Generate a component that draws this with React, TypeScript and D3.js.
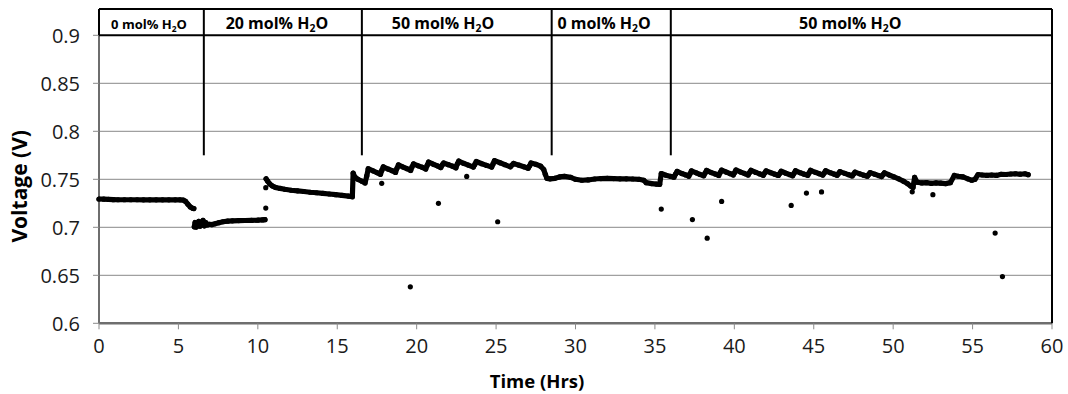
import React from 'react';
import * as d3 from 'd3';

// ---------- axis ticks ----------
const xTicks = [0, 5, 10, 15, 20, 25, 30, 35, 40, 45, 50, 55, 60];
const yTicks = [0.6, 0.65, 0.7, 0.75, 0.8, 0.85, 0.9];
const yTickLabels = ['0.6', '0.65', '0.7', '0.75', '0.8', '0.85', '0.9'];

// ---------- phases (top annotation) ----------
const phaseBounds = [6.6, 16.55, 28.5, 36.0];
const phaseWater = ['0', '20', '50', '0', '50'];
const phaseLabelHours = [3.15, 11.2, 21.66, 31.8, 47.3];
const dividerBottomV = 0.775;

// ---------- measured series (hours, volts) ----------
const run0mol: [number, number][] = [
  [0.0, 0.7295], [0.3, 0.7293], [0.6, 0.729], [0.9, 0.7288], [1.2, 0.7287], [1.6, 0.7287],
  [2.0, 0.7287], [2.4, 0.7287], [2.8, 0.7286], [3.2, 0.7286], [3.6, 0.7286], [4.0, 0.7286],
  [4.4, 0.7286], [4.8, 0.7286], [5.1, 0.7286], [5.3, 0.7284], [5.45, 0.727], [5.6, 0.724],
  [5.75, 0.7212], [5.9, 0.7198], [5.97, 0.7195],
];

const run20mol: [number, number][] = [
  [6.0, 0.7005], [6.05, 0.705], [6.12, 0.7002], [6.2, 0.7035], [6.28, 0.7062], [6.36, 0.7012],
  [6.45, 0.7032], [6.55, 0.7072], [6.63, 0.7015], [6.72, 0.7048], [6.82, 0.7025], [6.95, 0.7032],
  [7.1, 0.7028], [7.3, 0.7036], [7.55, 0.7048], [7.8, 0.7058], [8.1, 0.7064], [8.4, 0.7067],
  [8.8, 0.707], [9.2, 0.7071], [9.6, 0.7072], [10.0, 0.7074], [10.3, 0.7077], [10.45, 0.7079],
];

const run50mol: [number, number][] = [
  [10.52, 0.7505], [10.62, 0.748], [10.75, 0.7452], [10.9, 0.7432], [11.1, 0.7416], [11.4, 0.7405],
  [11.7, 0.7396], [12.1, 0.7386], [12.5, 0.738], [12.9, 0.7373], [13.3, 0.7365], [13.7, 0.736],
  [14.1, 0.7353], [14.5, 0.7347], [14.9, 0.734], [15.3, 0.7332], [15.7, 0.7325], [15.95, 0.7318],
  [16.0, 0.7565], [16.1, 0.7525], [16.3, 0.75], [16.55, 0.748], [16.75, 0.7462],
  [16.86, 0.7535], [16.95, 0.761], [17.25, 0.7588], [17.5, 0.757], [17.72, 0.7552],
  [17.81, 0.7595], [17.9, 0.763], [18.2, 0.7607], [18.45, 0.759], [18.67, 0.7572],
  [18.76, 0.7615], [18.85, 0.765], [19.15, 0.7627], [19.4, 0.761], [19.62, 0.7592],
  [19.71, 0.763], [19.8, 0.766], [20.1, 0.764], [20.35, 0.7625], [20.57, 0.7607],
  [20.66, 0.7645], [20.75, 0.768], [21.05, 0.7657], [21.3, 0.764], [21.52, 0.7622],
  [21.61, 0.765], [21.7, 0.767], [22.0, 0.7652], [22.25, 0.7637], [22.47, 0.762],
  [22.56, 0.766], [22.65, 0.769], [22.95, 0.7667], [23.25, 0.7648], [23.57, 0.7627],
  [23.66, 0.7655], [23.75, 0.7685], [24.1, 0.7662], [24.4, 0.7645], [24.72, 0.7627],
  [24.81, 0.766], [24.9, 0.7695], [25.25, 0.7672], [25.55, 0.7652], [25.9, 0.763],
  [26.0, 0.7648], [26.1, 0.7665], [26.45, 0.7647], [26.75, 0.763], [27.02, 0.7615],
  [27.11, 0.764], [27.2, 0.767], [27.5, 0.7657], [27.8, 0.7637], [28.0, 0.7602], [28.1, 0.7552],
  [28.2, 0.751],
  // back to 0 mol%
  [28.4, 0.7505], [28.7, 0.751], [29.0, 0.7525], [29.3, 0.753], [29.7, 0.752], [30.0, 0.75],
  [30.4, 0.749], [30.8, 0.7493], [31.2, 0.7503], [31.6, 0.7508], [32.0, 0.751], [32.4, 0.7508],
  [32.8, 0.7505], [33.2, 0.7505], [33.6, 0.7503], [34.0, 0.75], [34.3, 0.749], [34.45, 0.7465],
  [34.8, 0.7455], [35.1, 0.745], [35.3, 0.7448],
  // 50 mol% again
  [35.4, 0.756], [35.7, 0.7542], [36.0, 0.753], [36.2, 0.7522], [36.3, 0.7555], [36.4, 0.7582],
  [36.7, 0.756], [36.95, 0.7545], [37.13, 0.7532], [37.22, 0.756], [37.3, 0.7588], [37.6, 0.7567],
  [37.85, 0.755], [38.07, 0.7537], [38.16, 0.7565], [38.25, 0.7592], [38.55, 0.757], [38.8, 0.7555],
  [39.02, 0.754], [39.11, 0.757], [39.2, 0.7596], [39.5, 0.7574], [39.75, 0.7558], [39.93, 0.7545],
  [40.02, 0.757], [40.1, 0.7597], [40.4, 0.7575], [40.65, 0.756], [40.87, 0.7545], [40.96, 0.757],
  [41.05, 0.7594], [41.35, 0.7572], [41.6, 0.7556], [41.82, 0.7542], [41.91, 0.7566], [42.0, 0.7588],
  [42.3, 0.7568], [42.55, 0.7553], [42.77, 0.754], [42.86, 0.756], [42.95, 0.7584], [43.25, 0.7563],
  [43.5, 0.7548], [43.67, 0.7537], [43.76, 0.7562], [43.85, 0.7589], [44.15, 0.7568], [44.4, 0.7553],
  [44.62, 0.7541], [44.71, 0.7567], [44.8, 0.7594], [45.1, 0.7573], [45.35, 0.7558], [45.57, 0.7544],
  [45.66, 0.7566], [45.75, 0.7589], [46.05, 0.7568], [46.3, 0.7553], [46.47, 0.7542], [46.56, 0.756],
  [46.65, 0.758], [46.95, 0.7562], [47.2, 0.7548], [47.42, 0.7535], [47.51, 0.7555], [47.6, 0.7575],
  [47.9, 0.7557], [48.15, 0.7543], [48.37, 0.7532], [48.46, 0.755], [48.55, 0.757], [48.85, 0.7552],
  [49.1, 0.7538], [49.27, 0.7528], [49.36, 0.7548], [49.45, 0.7568], [49.75, 0.7545], [50.05, 0.7525],
  [50.35, 0.7505], [50.65, 0.748], [50.9, 0.7455], [51.1, 0.743], [51.25, 0.7415], [51.35, 0.752],
  [51.5, 0.747], [51.8, 0.7462], [52.1, 0.7465], [52.4, 0.7458], [52.7, 0.7463], [53.0, 0.746],
  [53.3, 0.7455], [53.6, 0.7465], [53.85, 0.754], [54.1, 0.7532], [54.4, 0.7525], [54.7, 0.7505],
  [54.95, 0.749], [55.15, 0.75], [55.35, 0.755], [55.6, 0.7545], [55.9, 0.754], [56.2, 0.7545],
  [56.5, 0.754], [56.8, 0.7552], [57.1, 0.755], [57.4, 0.7555], [57.7, 0.7558], [58.0, 0.7553],
  [58.3, 0.7558], [58.5, 0.7548],
];

const outliers: [number, number][] = [
  [10.5, 0.72], [10.5, 0.7413], [17.8, 0.7458], [19.6, 0.638], [21.37, 0.725], [23.15, 0.753],
  [25.1, 0.7058], [35.4, 0.719], [37.36, 0.708], [38.29, 0.6887], [39.2, 0.727], [43.58, 0.7228],
  [44.54, 0.7357], [45.49, 0.7368], [51.2, 0.737], [52.5, 0.734], [56.42, 0.694], [56.88, 0.6487],
];

const runs = [run0mol, run20mol, run50mol];

const W = 1068;
const H = 394;
const boxTop = 9;

export default function App() {
  const x = d3.scaleLinear().domain([0, 60]).range([99, 1052]);
  const y = d3.scaleLinear().domain([0.6, 0.9]).range([323.3, 35.3]);
  const line = d3
    .line<[number, number]>()
    .x((d) => x(d[0]))
    .y((d) => y(d[1]));

  const font = "'Open Sans', sans-serif";
  const allPts = runs.flat();

  return (
    <svg
      width={W}
      height={H}
      style={{ position: 'absolute', left: 0, top: 0, background: '#fff' }}
      fontFamily={font}
    >
      <rect x={0} y={0} width={W} height={H} fill="#fff" />
      {/* gridlines */}
      {yTicks.slice(1, -1).map((t) => (
        <line key={t} x1={x(0)} x2={x(60)} y1={y(t)} y2={y(t)} stroke="#a0a0a0" strokeWidth={1.2} />
      ))}

      {/* y axis */}
      <line x1={x(0)} x2={x(0)} y1={y(0.9)} y2={y(0.6)} stroke="#6e6e6e" strokeWidth={2} />
      {yTicks.map((t, i) => (
        <g key={t}>
          <line x1={x(0) - 6} x2={x(0)} y1={y(t)} y2={y(t)} stroke="#8a8a8a" strokeWidth={1} />
          <text x={80} y={y(t)} dy="0.36em" textAnchor="end" fontSize={20} fill="#1a1a1a">
            {yTickLabels[i]}
          </text>
        </g>
      ))}

      {/* x axis */}
      <line x1={x(0)} x2={x(60)} y1={y(0.6)} y2={y(0.6)} stroke="#6e6e6e" strokeWidth={2.5} />
      {xTicks.map((t) => (
        <g key={t}>
          <line x1={x(t)} x2={x(t)} y1={y(0.6)} y2={y(0.6) + 6} stroke="#8a8a8a" strokeWidth={1} />
          <text x={x(t)} y={353} textAnchor="middle" fontSize={20} fill="#1a1a1a">
            {t}
          </text>
        </g>
      ))}

      {/* annotation box */}
      <g stroke="#000" strokeWidth={2} fill="none">
        <line x1={x(0)} x2={x(60)} y1={boxTop} y2={boxTop} />
        <line x1={x(0)} x2={x(60)} y1={y(0.9)} y2={y(0.9)} />
        <line x1={x(0)} x2={x(0)} y1={boxTop} y2={y(0.9)} />
        <line x1={x(60)} x2={x(60)} y1={boxTop} y2={y(0.6)} />
        {phaseBounds.map((b) => (
          <line key={b} x1={x(b)} x2={x(b)} y1={boxTop} y2={y(dividerBottomV)} />
        ))}
      </g>
      {phaseWater.map((w, i) => {
        const fs = i === 0 ? 13 : 16;
        return (
          <text
            key={i}
            x={x(phaseLabelHours[i])}
            y={29}
            textAnchor="middle"
            fontSize={fs}
            fontWeight="bold"
            fill="#000"
          >
            {w} mol% H
            <tspan fontSize={fs * 0.65} dy={3}>2</tspan>
            <tspan dy={-3}>O</tspan>
          </text>
        );
      })}

      {/* data */}
      {runs.map((r, i) => (
        <path
          key={i}
          d={line(r) ?? ''}
          fill="none"
          stroke="#000"
          strokeWidth={5.2}
          strokeLinejoin="round"
          strokeLinecap="round"
        />
      ))}
      {allPts.map((d, i) => (
        <circle key={'p' + i} cx={x(d[0])} cy={y(d[1])} r={2.6} fill="#000" />
      ))}
      {outliers.map((d, i) => (
        <circle key={'o' + i} cx={x(d[0])} cy={y(d[1])} r={2.6} fill="#000" />
      ))}

      {/* axis titles */}
      <text x={537} y={388} textAnchor="middle" fontSize={18.5} fontWeight="bold" fill="#000">
        Time (Hrs)
      </text>
      <text
        transform={`translate(27, ${y(0.75) + 7}) rotate(-90)`}
        textAnchor="middle"
        fontSize={21}
        fontWeight="bold"
        fill="#000"
      >
        Voltage (V)
      </text>
    </svg>
  );
}
